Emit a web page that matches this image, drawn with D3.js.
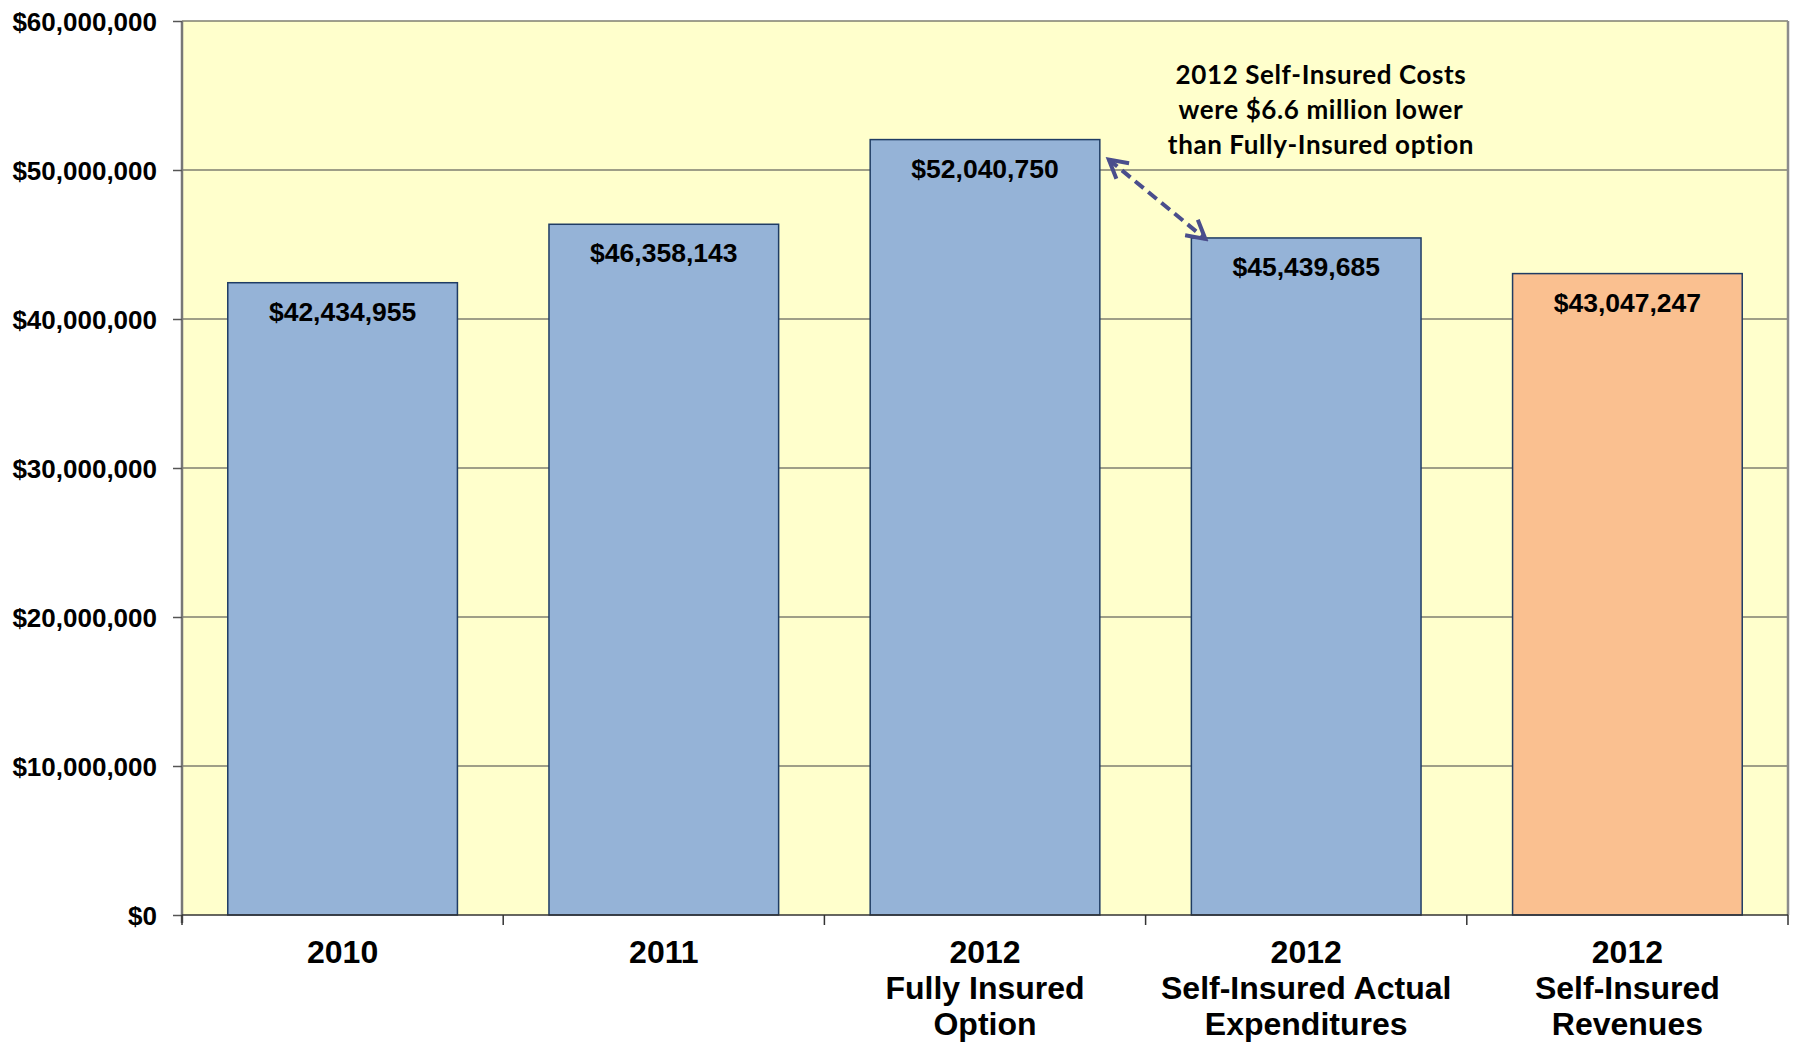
<!DOCTYPE html>
<html>
<head>
<meta charset="utf-8">
<script src="https://cdn.jsdelivr.net/npm/d3@7"></script>
<style>
  body { margin: 0; background: #fff; }
  svg { display: block; }
  .tick text { font-family: Arial, "Liberation Sans", sans-serif; font-weight: bold; fill: #000; }
</style>
</head>
<body>
<div id="chart"></div>
<script>
// data
var categories = ["2010", "2011", "2012 Fully Insured", "2012 Self-Insured Actual", "2012 Self-Insured Revenues"];
var categoryLines = [
  ["2010"],
  ["2011"],
  ["2012", "Fully Insured", "Option"],
  ["2012", "Self-Insured Actual", "Expenditures"],
  ["2012", "Self-Insured", "Revenues"]
];
var values = [42434955, 46358143, 52040750, 45439685, 43047247];
var barColors = ["#95b3d7", "#95b3d7", "#95b3d7", "#95b3d7", "#fac090"];
var yTicks = [0, 10000000, 20000000, 30000000, 40000000, 50000000, 60000000];
var noteLines = ["2012 Self-Insured Costs", "were $6.6 million lower", "than Fully-Insured option"];

var w = 1800, h = 1044;
var margin = {top: 21, right: 12, bottom: 129, left: 182};
var innerW = w - margin.left - margin.right;
var innerH = h - margin.top - margin.bottom;

var svg = d3.select("#chart").append("svg")
  .attr("width", w)
  .attr("height", h);

var g = svg.append("g")
  .attr("transform", `translate(${margin.left},${margin.top})`);

var x = d3.scaleBand()
  .domain(categories)
  .range([0, innerW])
  .paddingInner(0.285)
  .paddingOuter(0.1425);

var y = d3.scaleLinear()
  .domain([0, 60000000])
  .range([innerH, 0]);

//plot background
g.append("rect")
  .attr("width", innerW)
  .attr("height", innerH)
  .attr("fill", "#ffffcc");

//gridlines
g.append("g")
  .selectAll("line")
  .data(yTicks.slice(1))
  .enter()
  .append("line")
    .attr("x1", 0)
    .attr("x2", innerW)
    .attr("y1", d => y(d))
    .attr("y2", d => y(d))
    .attr("stroke", "#7f7f70")
    .attr("stroke-width", 1.5);

//right border
g.append("line")
  .attr("x1", innerW).attr("x2", innerW)
  .attr("y1", 0).attr("y2", innerH)
  .attr("stroke", "#8c8c8c")
  .attr("stroke-width", 2.5);

//bars
g.append("g")
  .selectAll("rect")
  .data(values)
  .enter()
  .append("rect")
    .attr("x", (d, i) => x(categories[i]))
    .attr("y", d => y(d))
    .attr("width", x.bandwidth())
    .attr("height", d => innerH - y(d))
    .attr("fill", (d, i) => barColors[i])
    .attr("stroke", "#1f3c64")
    .attr("stroke-width", 1.5);

//value labels
g.append("g")
  .selectAll("text")
  .data(values)
  .enter()
  .append("text")
    .attr("x", (d, i) => x(categories[i]) + x.bandwidth() / 2)
    .attr("y", d => y(d) + 38)
    .attr("text-anchor", "middle")
    .attr("font-family", "Arial, 'Liberation Sans', sans-serif")
    .attr("font-weight", "bold")
    .attr("font-size", 26.5)
    .text(d => "$" + d3.format(",")(d));

//y axis
var yAxis = g.append("g")
  .call(d3.axisLeft(y)
    .tickValues(yTicks)
    .tickSize(9)
    .tickFormat(d => "$" + d3.format(",")(d)));
yAxis.selectAll(".tick text").attr("font-size", 26).attr("x", -25).attr("dy", "0.35em");
yAxis.selectAll(".tick line").attr("stroke", "#555").attr("stroke-width", 1.5);
yAxis.select(".domain").attr("d", `M0,${innerH + 8}V0`).attr("stroke", "#777").attr("stroke-width", 2.5);

//x axis
var boundaries = d3.range(categories.length + 1).map(i => i * innerW / categories.length);
g.append("line")
  .attr("x1", 0).attr("x2", innerW)
  .attr("y1", innerH).attr("y2", innerH)
  .attr("stroke", "#333")
  .attr("stroke-width", 1.5);
g.append("g")
  .selectAll("line")
  .data(boundaries)
  .enter()
  .append("line")
    .attr("x1", d => d).attr("x2", d => d)
    .attr("y1", innerH).attr("y2", innerH + 10)
    .attr("stroke", "#333")
    .attr("stroke-width", 1.5);

var xLabels = g.append("g")
  .selectAll("text")
  .data(categories)
  .enter()
  .append("text")
    .attr("x", d => x(d) + x.bandwidth() / 2)
    .attr("y", innerH + 48)
    .attr("text-anchor", "middle")
    .attr("font-family", "Arial, 'Liberation Sans', sans-serif")
    .attr("font-weight", "bold")
    .attr("font-size", 32);
xLabels.each(function(d, i){
  var t = d3.select(this);
  categoryLines[i].forEach(function(line, k){
    t.append("tspan")
      .attr("x", x(d) + x.bandwidth() / 2)
      .attr("dy", k === 0 ? 0 : 36)
      .text(line);
  });
});

//annotation arrow
var defs = svg.append("defs");
["start", "end"].forEach(function(kind){
  defs.append("marker")
    .attr("id", "arrow-" + kind)
    .attr("viewBox", "0 0 12 12")
    .attr("refX", 10)
    .attr("refY", 6)
    .attr("markerWidth", 6)
    .attr("markerHeight", 6)
    .attr("markerUnits", "strokeWidth")
    .attr("orient", "auto-start-reverse")
    .append("path")
      .attr("d", "M1,1 L10,6 L1,11")
      .attr("fill", "none")
      .attr("stroke", "#4a4e8c")
      .attr("stroke-width", 2);
});

var fullX = x(categories[2]) + x.bandwidth();
var selfX = x(categories[3]);
g.append("line")
  .attr("x1", fullX + 9)
  .attr("y1", y(values[2]) + 20)
  .attr("x2", selfX + 14)
  .attr("y2", y(values[3]) + 1)
  .attr("stroke", "#4a4e8c")
  .attr("stroke-width", 4)
  .attr("stroke-dasharray", "11,6")
  .attr("marker-start", "url(#arrow-start)")
  .attr("marker-end", "url(#arrow-end)");

//annotation text
g.append("text")
  .attr("x", 1321 - margin.left)
  .attr("y", 84 - margin.top)
  .attr("text-anchor", "middle")
  .attr("font-family", "Lato, 'Open Sans', sans-serif")
  .attr("font-weight", "bold")
  .attr("font-size", 26)
  .attr("letter-spacing", 0.6)
  .selectAll("tspan")
  .data(noteLines)
  .enter()
  .append("tspan")
    .attr("x", 1321 - margin.left)
    .attr("dy", (d, i) => i === 0 ? 0 : 35)
    .text(d => d);
</script>
</body>
</html>
